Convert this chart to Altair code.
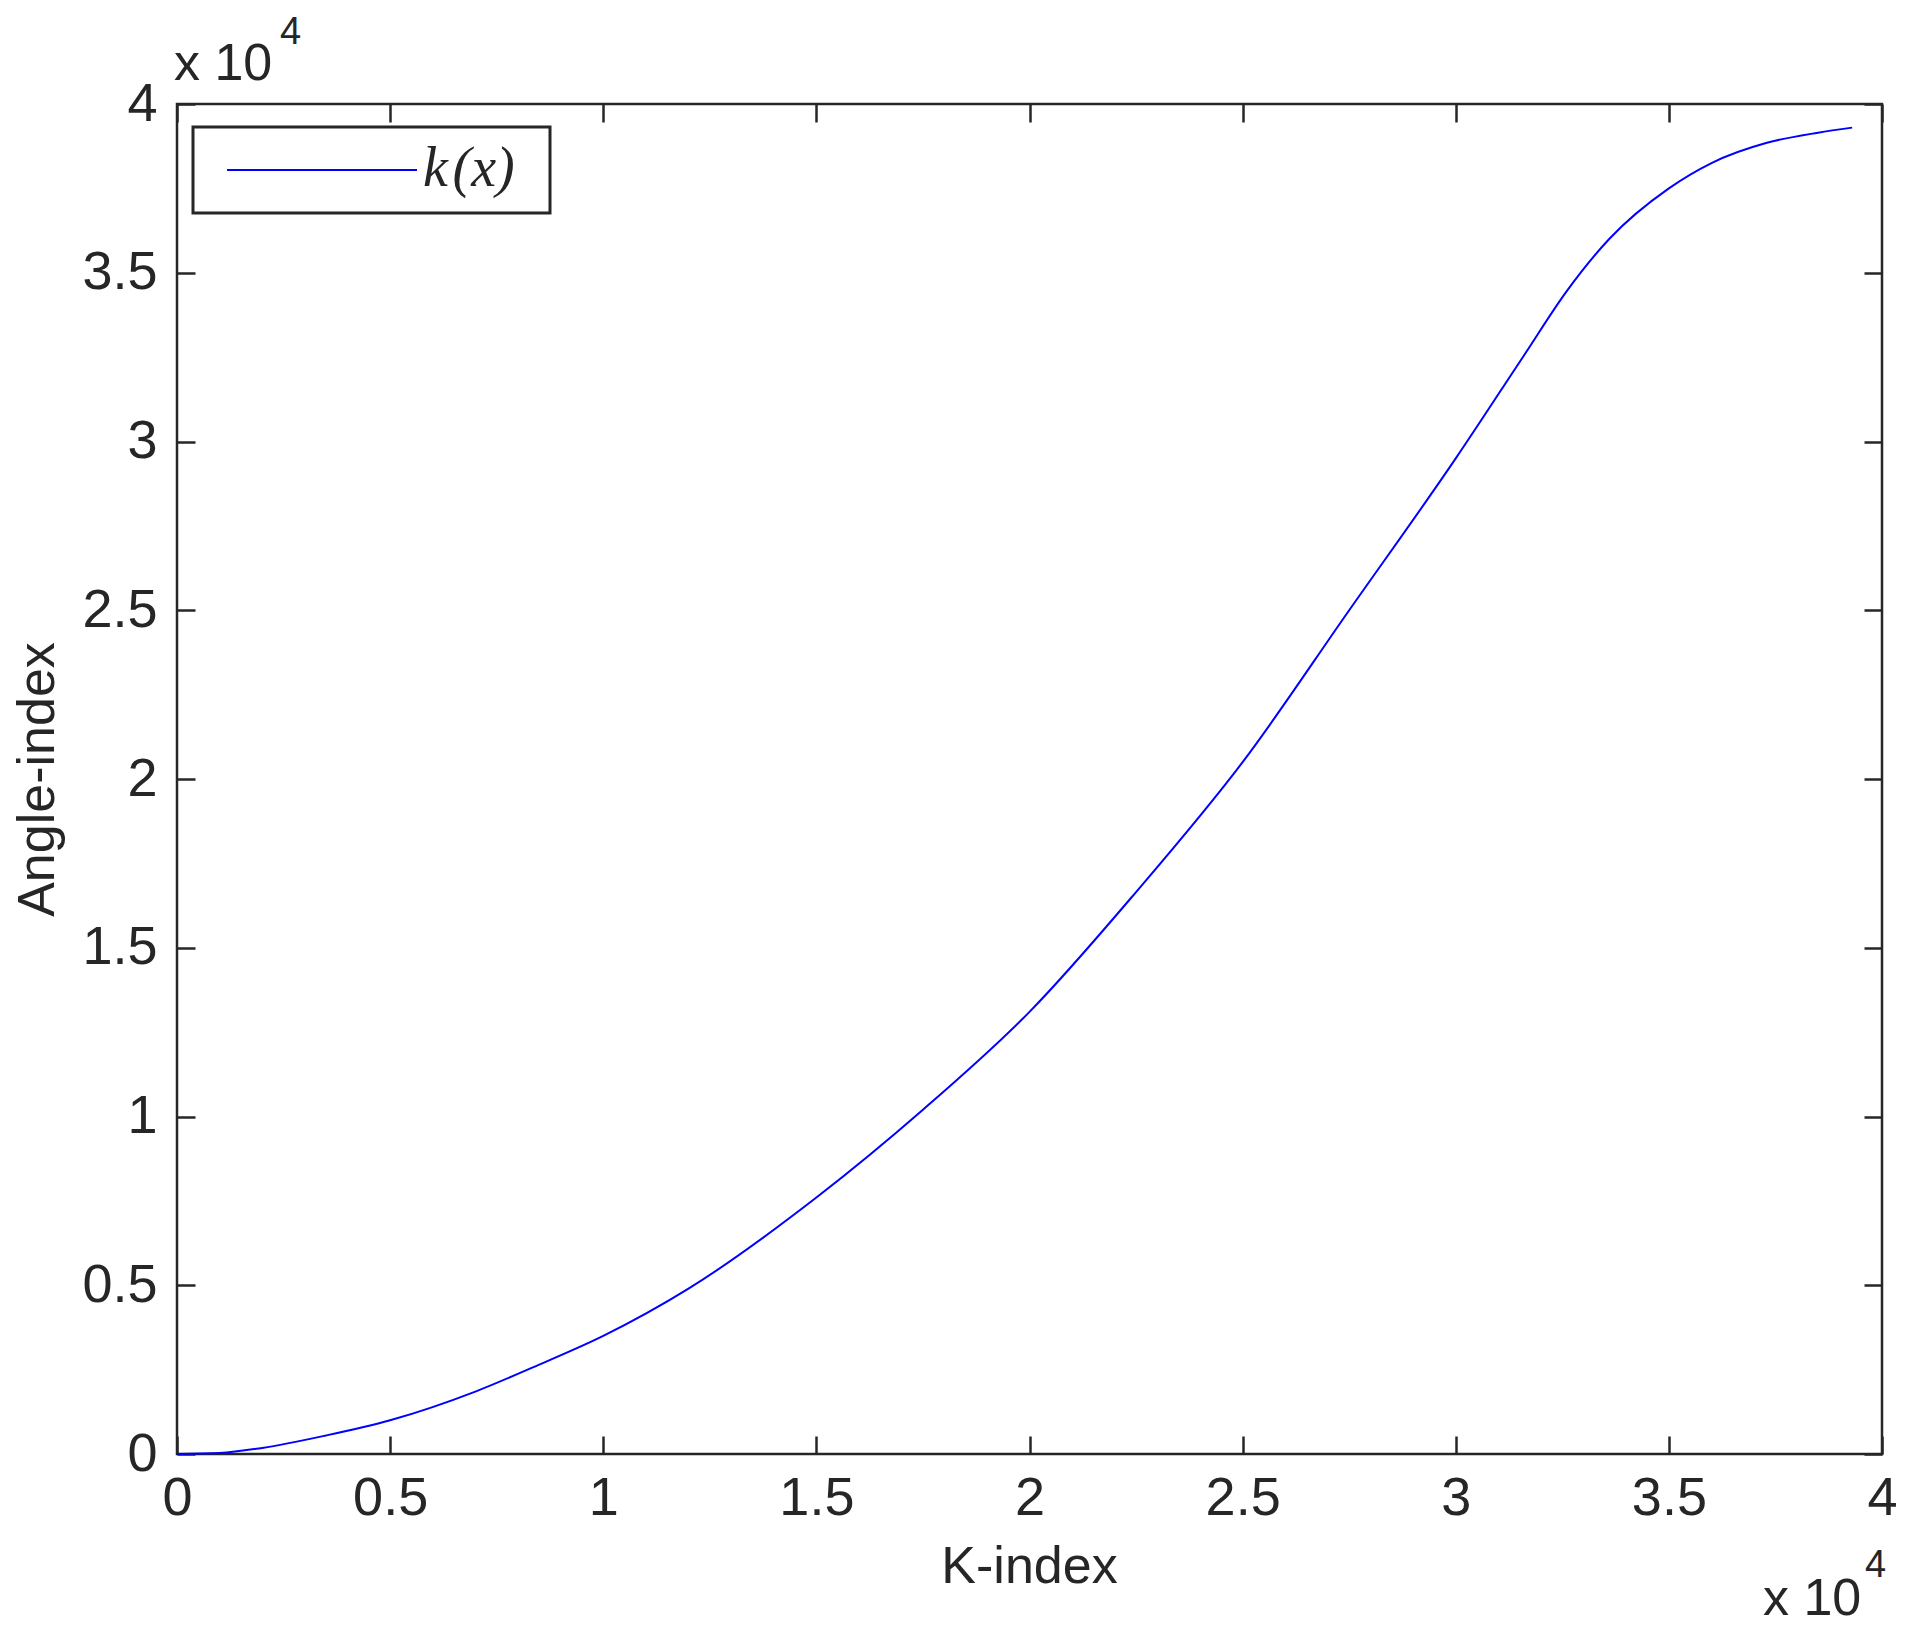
import altair as alt
import pandas as pd

# Data (raw units; axes show them x 10^4)
k_index = [0, 1000, 2000, 3500, 5000, 7000, 8500, 10000, 12000, 15000, 17500,
           20000, 22500, 25000, 27500, 30000, 31600, 32600, 33600, 35000, 36000,
           37300, 38500, 39300]
angle_index = [0, 30, 180, 550, 1000, 1850, 2650, 3500, 4900, 7600, 10200,
               13100, 16650, 20500, 25000, 29500, 32550, 34450, 36000, 37500, 38250,
               38850, 39150, 39300]
tick_values = [0, 5000, 10000, 15000, 20000, 25000, 30000, 35000, 40000]
series_name = "k\u200a(x)"
x_title = "K-index"
y_title = "Angle-index"
exp_base = "x 10"
exp_power = "4"

df = pd.DataFrame({"K": k_index, "A": angle_index})

W, H = 1705, 1350
INK = "#262626"
SANS = "Liberation Sans"
TICK = 18

xscale = alt.Scale(domain=[0, 40000], nice=False, zero=False)
yscale = alt.Scale(domain=[0, 40000], nice=False, zero=False)
label_expr = "datum.value / 10000 + ''"

main = alt.Chart(df).mark_line(color="#0000ff", strokeWidth=2, interpolate="monotone").encode(
    x=alt.X("K:Q", scale=xscale,
            axis=alt.Axis(orient="bottom", values=tick_values, labelExpr=label_expr,
                          offset=-TICK, tickSize=TICK, labelPadding=17,
                          labelFlush=False, labelOverlap=False,
                          title=x_title, titleX=852, titleY=146,
                          titleAlign="center", titleBaseline="alphabetic")),
    y=alt.Y("A:Q", scale=yscale,
            axis=alt.Axis(orient="left", values=tick_values, labelExpr=label_expr,
                          offset=-TICK, tickSize=TICK, labelPadding=20,
                          labelFlush=False, labelOverlap=False,
                          title=y_title, titleX=-142, titleY=675, titleAngle=270,
                          titleAlign="center", titleBaseline="alphabetic")),
)

mirror = alt.Chart(df).mark_line(opacity=0).encode(
    x=alt.X("K:Q", scale=xscale,
            axis=alt.Axis(orient="top", values=tick_values, labels=False,
                          offset=-TICK, tickSize=TICK, title=None)),
    y=alt.Y("A:Q", scale=yscale,
            axis=alt.Axis(orient="right", values=tick_values, labels=False,
                          offset=-TICK, tickSize=TICK, title=None)),
)

one = alt.Data(values=[{}])

def txt(text, x, y, size, **kw):
    return alt.Chart(one).mark_text(align="left", baseline="alphabetic", fontSize=size,
                                    font=SANS, color=INK, **kw).encode(
        x=alt.value(x), y=alt.value(y), text=alt.value(text))

exp_top = txt(exp_base, -3, -24, 52) + txt(exp_power, 103, -60, 38)
exp_bot = txt(exp_base, 1586, 1511, 52) + txt(exp_power, 1688, 1473, 38)

legend_box = alt.Chart(one).mark_rect(fill="white", stroke=INK, strokeWidth=3).encode(
    x=alt.value(16), x2=alt.value(373), y=alt.value(23), y2=alt.value(109))
legend_line = alt.Chart(one).mark_rule(color="#0000ff", strokeWidth=2.2).encode(
    x=alt.value(50), x2=alt.value(240), y=alt.value(66))
legend_text = alt.Chart(one).mark_text(align="left", baseline="alphabetic", fontSize=56,
                                       font="Liberation Serif", fontStyle="italic",
                                       color=INK).encode(
    x=alt.value(246), y=alt.value(82), text=alt.value(series_name))

chart = alt.layer(main, mirror, exp_top, exp_bot, legend_box, legend_line, legend_text).resolve_axis(
    x="independent", y="independent"
).properties(
    width=W, height=H,
    autosize=alt.AutoSizeParams(type="none"),
    padding={"left": 169, "top": 96, "right": 26, "bottom": 176},
    background="white",
).configure_view(
    stroke=INK, strokeWidth=2.5
).configure_axis(
    grid=False, domain=False,
    tickColor=INK, tickWidth=2.5,
    labelFont=SANS, labelFontSize=54, labelColor=INK,
    titleFont=SANS, titleFontSize=52, titleColor=INK, titleFontWeight="normal",
)

chart.save("out.html", embed_options={"renderer": "svg", "actions": False})
